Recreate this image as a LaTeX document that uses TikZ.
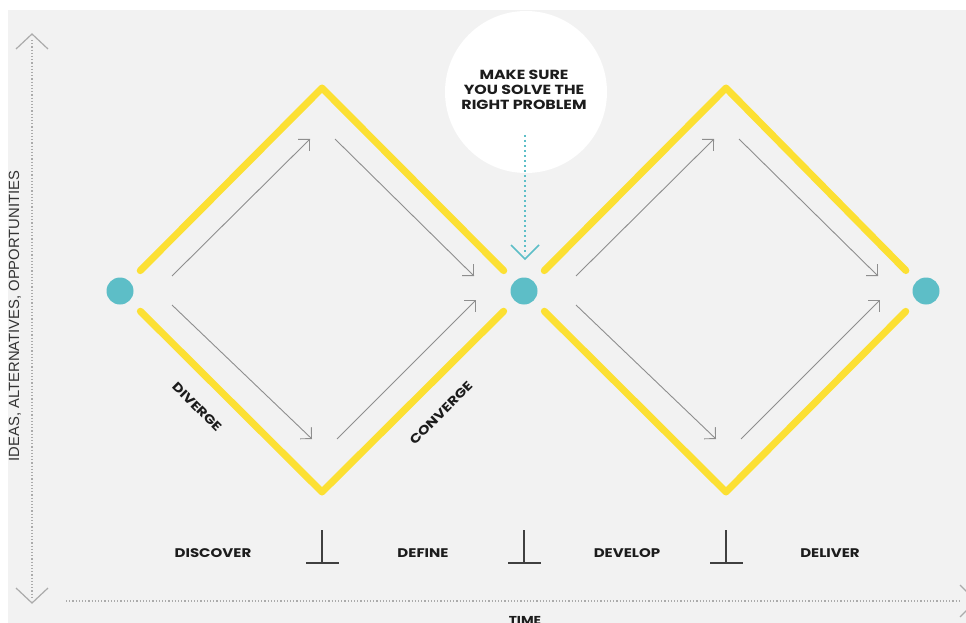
\documentclass[tikz,border=0pt]{standalone}
\usepackage{fontspec}
\setmainfont{Liberation Sans}
\newfontfamily\geo{Poppins}[FakeStretch=1.2]
\usetikzlibrary{arrows.meta}
\definecolor{bgc}{HTML}{F2F2F2}
\definecolor{yelc}{HTML}{FCE033}
\definecolor{cyc}{HTML}{5DBEC7}
\definecolor{arc}{HTML}{8E8E8E}
\definecolor{axc}{HTML}{ABABAB}
\definecolor{txc}{HTML}{1C1C1C}
\begin{document}
\begin{tikzpicture}[x=1pt,y=-1pt,
  yel/.style={draw=yelc,line width=7pt,line cap=round,line join=round,shorten <=15pt,shorten >=15pt},
  garr/.style={draw=arc,line width=0.9pt,-{Straight Barb[length=8pt,width=16pt,line width=0.9pt]}},
  dotc/.style={circle,fill=cyc,minimum size=27pt,inner sep=0pt},
  lab/.style={font=\geo\bfseries\fontsize{12.5}{14}\selectfont,text=txc},
  axis/.style={draw=axc,line width=1.2pt,dash pattern=on 1.2pt off 2pt},
  chev/.style={draw=axc,line width=1.2pt},
  tick/.style={draw=black!75,line width=1.3pt}]
\useasboundingbox (0,0) rectangle (966,623);
\fill[white] (0,0) rectangle (966,623);
\fill[bgc] (8,10) rectangle (966,623);
% white circle
\fill[white] (526,92) circle (81);
\node[lab,align=center,font=\geo\bfseries\fontsize{13.2}{15}\selectfont] (msg) at (524,90) {MAKE SURE\\YOU SOLVE THE\\RIGHT PROBLEM};
% dots
\node[dotc] (d1) at (120,291) {};
\node[dotc] (d2) at (524,291) {};
\node[dotc] (d3) at (926,291) {};
\coordinate (t1) at (322,88);
\coordinate (b1) at (322,492);
\coordinate (t2) at (726,88);
\coordinate (b2) at (726,492);
% yellow diamonds
\draw[yel] (d1) -- (t1) -- (d2);
\draw[yel] (d1) -- (b1) -- (d2);
\draw[yel] (d2) -- (t2) -- (d3);
\draw[yel] (d2) -- (b2) -- (d3);
% gray arrows
\foreach \o in {0,404}{
  \draw[garr] (172+\o,276) -- (310+\o,139);
  \draw[garr] (335+\o,139) -- (474+\o,276);
  \draw[garr] (172+\o,305) -- (312+\o,439);
  \draw[garr] (337+\o,439) -- (476+\o,300);
}
% cyan pointer
\coordinate (pt) at (525,259);
\draw[cyc,line width=2pt,dash pattern=on 2pt off 3pt] (525,135) -- (525,255);
\draw[cyc,line width=1.5pt] (511,245) -- (pt) -- (539,245);
% diverge / converge
\node[lab,rotate=-45] (dv) at (197,407) {DIVERGE};
\node[lab,rotate=45] (cv) at (441,413) {CONVERGE};
% phase labels
\node[lab] (p1) at (213,553) {DISCOVER};
\node[lab] (p2) at (423,553) {DEFINE};
\node[lab] (p3) at (627,553) {DEVELOP};
\node[lab] (p4) at (830,553) {DELIVER};
% ticks
\foreach \x in {322,524,726}{
  \draw[tick] (\x,530) -- (\x,563);
  \draw[tick] (\x-16,563) -- (\x+17,563);
}
% axes
\draw[axis] (32,40) -- (32,597);
\draw[chev] (16,49) -- (32,34) -- (48,49);
\draw[chev] (16,588) -- (32,603) -- (48,588);
\draw[axis] (66,601) -- (960,601);
\draw[chev] (960,585) -- (976,601) -- (960,617);
\node[rotate=90,text=black!80,font=\fontsize{14.8}{16}\selectfont] (ya) at (15,316) {IDEAS, ALTERNATIVES, OPPORTUNITIES};
\node[lab,font=\geo\bfseries\fontsize{11.5}{12}\selectfont,anchor=north] (tm) at (525,613) {TIME};
\end{tikzpicture}
\end{document}
